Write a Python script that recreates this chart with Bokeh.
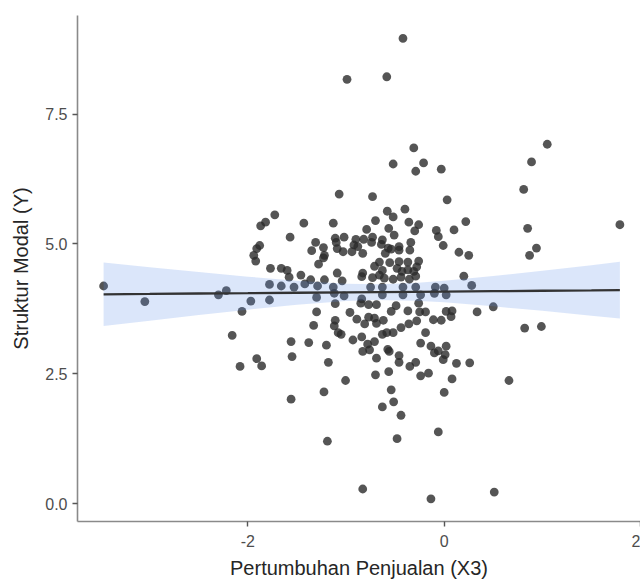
from bokeh.plotting import figure
from bokeh.models import Range1d, FixedTicker
from bokeh.embed import file_html
from bokeh.resources import INLINE

# ---- data ----
growth_x3 = [
    -0.42, -0.99, -0.585, -0.31, 1.05, -0.52, -0.21, -0.29, -0.03, 0.89, 0.81, -1.07, -0.73, 0.03,
    -3.47, -3.05, -2.30, -2.22, -2.06, -1.97, -2.16, -2.08,
    -1.726, -1.82, -1.87, -1.43, -1.13, -1.57, -1.88, -1.91, -1.94, -1.92, -1.31, -1.35, -1.23,
    -1.11, -1.02, -1.10, -1.09, -1.03, -1.22, -1.23, -1.28, -1.77, -1.66, -1.60, -1.58, -1.46,
    -1.36, -1.22, -1.09, -1.04, -1.78, -1.66, -1.53, -1.42, -1.29, -1.13,
    -0.40, -0.58, -0.52, -0.70, -0.36, -0.26, -0.30, -0.565, -0.79, -0.51, -0.08, -0.06, -0.01,
    -0.90, -0.82, -0.73, -0.63, -0.92, -0.88, -0.74, -0.64, -0.57, -0.54, -0.46, -0.46, -0.34,
    -0.35, -0.94, -0.83, -0.60, -0.66, -0.555, -0.71, -0.46, -0.37, -0.26, -0.28, -0.83, -0.84,
    -0.63, -0.66, -0.61, -0.73, -0.48, -0.43, -0.37, -0.31, -0.29, -0.44, -0.52, -0.355, -0.09,
    0.00, -0.75, -0.63, -0.42, -0.29,
    -1.78, -1.30, -1.12, -1.02, -1.11, -1.30, -1.33, -1.11, -1.12, -1.08, -1.05, -1.56, -1.38,
    -1.20, -1.91, -1.86, -1.55, -1.18,
    -0.84, -0.63, -0.42, -0.24, -0.10, 0.02, -0.85, -0.77, -0.69, -0.49, -0.54, -0.37, -0.26,
    -0.19, -0.25, 0.02, -0.96, -0.89, -0.81, -0.77, -0.71, -0.69, -0.62, -0.36, -0.44, -0.28,
    -0.11, -0.03, -0.63, -0.585, -0.52, -0.19, -0.93, -0.84, -0.78, -0.71, -0.76, -0.83, -0.575,
    -0.56, -0.69, -0.46, -0.46, -0.24, -0.135, -0.06, -0.10, 0.02, 0.01, -0.01, -0.29, -0.35,
    -0.70, -0.565, -0.24, -0.16,
    -1.56, -1.225, -1.005, -1.19,
    -0.54, -0.515, -0.63, -0.44, -0.48, 0.00, -0.06, -0.83, -0.135,
    0.22, 0.10, 0.85, 1.79, 0.15, 0.25, 0.94, 0.87, 0.20, 0.28, 0.50, 0.08, 0.07, 0.335, 0.82,
    0.99, 0.125, 0.26, 0.08, 0.66, 0.51,
]
capital_y = [
    8.96, 8.17, 8.22, 6.85, 6.92, 6.54, 6.56, 6.40, 6.44, 6.58, 6.05, 5.96, 5.91, 5.85,
    4.19, 3.89, 4.02, 4.10, 3.70, 3.90, 3.24, 2.64,
    5.56, 5.42, 5.35, 5.40, 5.40, 5.13, 4.97, 4.91, 4.78, 4.67, 5.03, 4.87, 4.93,
    5.11, 5.13, 5.03, 4.91, 4.85, 4.78, 4.73, 4.61, 4.53, 4.53, 4.49, 4.36, 4.40,
    4.31, 4.31, 4.44, 4.29, 4.22, 4.19, 4.17, 4.23, 4.19, 4.17,
    5.67, 5.63, 5.52, 5.45, 5.42, 5.37, 5.25, 5.30, 5.28, 5.17, 5.26, 5.14, 4.97,
    5.09, 5.09, 5.13, 5.08, 4.98, 4.95, 5.03, 4.99, 4.92, 4.90, 4.95, 4.88, 5.03,
    4.88, 4.85, 4.82, 4.82, 4.65, 4.64, 4.57, 4.66, 4.65, 4.67, 4.56, 4.44, 4.37,
    4.49, 4.40, 4.34, 4.35, 4.53, 4.47, 4.50, 4.47, 4.38, 4.36, 4.32, 4.32, 4.17,
    4.15, 4.17, 4.17, 4.17, 4.17,
    3.92, 3.97, 4.05, 4.00, 3.85, 3.69, 3.43, 3.53, 3.42, 3.29, 3.26, 3.12, 3.10,
    3.05, 2.79, 2.65, 2.83, 2.72,
    3.94, 4.02, 4.02, 4.02, 4.05, 4.02, 3.86, 3.83, 3.83, 3.81, 3.70, 3.71, 3.86,
    3.69, 3.69, 3.70, 3.68, 3.55, 3.46, 3.59, 3.57, 3.47, 3.53, 3.46, 3.39, 3.52,
    3.54, 3.53, 3.26, 3.29, 3.29, 3.29, 3.15, 3.21, 3.07, 3.12, 2.96, 2.93, 2.97,
    2.93, 2.80, 2.85, 2.72, 3.09, 3.03, 2.94, 2.90, 3.03, 2.87, 2.77, 2.72, 2.64,
    2.48, 2.54, 2.46, 2.51,
    2.01, 2.15, 2.37, 1.20,
    2.19, 1.96, 1.86, 1.70, 1.25, 2.14, 1.38, 0.28, 0.09,
    5.43, 5.27, 5.30, 5.37, 4.84, 4.78, 4.92, 4.78, 4.38, 4.20, 3.79, 3.71, 3.60, 3.69, 3.38,
    3.41, 2.70, 2.71, 2.40, 2.37, 0.22,
]

# fitted line and its confidence band, read at several x positions
fit_x = [-3.47, -3.0, -2.5, -2.0, -1.5, -1.0, -0.68, -0.3, 0.0, 0.5, 1.0, 1.5, 1.79]
fit_mid = [4.030, 4.037, 4.045, 4.052, 4.060, 4.068, 4.072, 4.078, 4.083, 4.090, 4.098, 4.105, 4.110]
fit_lo = [3.419, 3.523, 3.631, 3.734, 3.830, 3.903, 3.922, 3.908, 3.875, 3.798, 3.711, 3.619, 3.565]
fit_hi = [4.641, 4.551, 4.459, 4.370, 4.290, 4.233, 4.222, 4.248, 4.291, 4.382, 4.485, 4.591, 4.655]

x_ticks = [-2, 0, 2]
x_tick_labels = ["-2", "0", "2"]
y_ticks = [0, 2.5, 5, 7.5]
y_tick_labels = ["0.0", "2.5", "5.0", "7.5"]

# ---- figure ----
p = figure(width=640, height=581, output_backend="svg", toolbar_location=None,
           x_range=Range1d(-3.736, 2.0), y_range=Range1d(-0.346, 9.40),
           min_border_left=77, min_border_right=0, min_border_top=15, min_border_bottom=59)
p.grid.visible = False
p.outline_line_color = None
p.background_fill_color = "white"
p.border_fill_color = "white"

p.scatter(growth_x3, capital_y, size=8.8, fill_color="#2b2b2b", fill_alpha=0.8, line_color=None)
p.varea(x=fit_x, y1=fit_lo, y2=fit_hi, fill_color="#5b8ee6", fill_alpha=0.22)
p.line(fit_x, fit_mid, line_color="#333333", line_width=2.3)

p.xaxis.ticker = FixedTicker(ticks=x_ticks)
p.xaxis.major_label_overrides = dict(zip(x_ticks, x_tick_labels))
p.yaxis.ticker = FixedTicker(ticks=y_ticks)
p.yaxis.major_label_overrides = dict(zip(y_ticks, y_tick_labels))
p.xaxis.axis_label = "Pertumbuhan Penjualan (X3)"
p.yaxis.axis_label = "Struktur Modal (Y)"

for ax in (p.xaxis[0], p.yaxis[0]):
    ax.axis_line_color = "#8a8a8a"
    ax.axis_line_width = 1.6
    ax.major_tick_line_color = "#555555"
    ax.major_tick_line_width = 1.4
    ax.major_tick_out = 5
    ax.major_tick_in = 0
    ax.minor_tick_line_color = None
    ax.major_label_text_font = "Liberation Sans"
    ax.major_label_text_font_size = "16px"
    ax.major_label_text_color = "#4d4d4d"
    ax.axis_label_text_font = "Liberation Sans"
    ax.axis_label_text_font_size = "20px"
    ax.axis_label_text_font_style = "normal"
    ax.axis_label_text_color = "#262626"

p.xaxis[0].major_label_standoff = 8
p.xaxis[0].axis_label_standoff = 7
p.yaxis[0].major_label_standoff = 5
p.yaxis[0].axis_label_standoff = 10

open("out.html", "w").write(file_html(p, INLINE))
